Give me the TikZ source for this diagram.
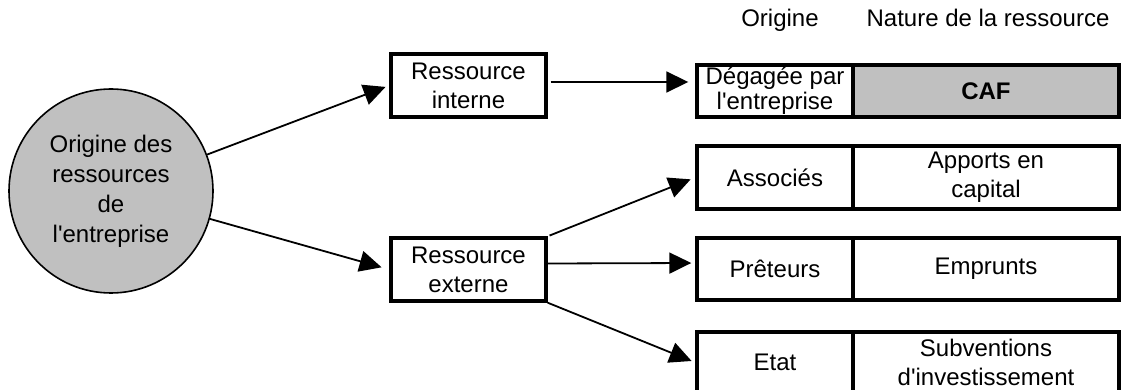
\documentclass[tikz,border=0pt]{standalone}
\usepackage{fontspec}
\setmainfont{Liberation Sans}
\usetikzlibrary{arrows.meta,calc}
\definecolor{cafgray}{HTML}{C0C0C0}
\newcommand{\apos}{\textquotesingle}
\begin{document}
\begin{tikzpicture}[x=0.5pt,y=-0.5pt,
  every node/.style={font=\fontsize{12}{14.5}\selectfont, align=center, inner sep=0pt},
  cell/.style={draw, line width=1.7pt, minimum width=78pt},
  wide/.style={cell, minimum width=133pt},
  conn/.style={line width=0.9pt, -{Triangle[length=11pt,width=10.5pt]}},
]
\useasboundingbox (0,0) rectangle (1121,390);
% circle
\node[circle, draw, line width=0.8pt, fill=cafgray, minimum size=102pt,
      font=\fontsize{12}{15}\selectfont] (circ) at (111,191)
      {Origine des\\ressources\\de\\l\apos entreprise};
% middle boxes
\node[cell, minimum width=77.5pt, minimum height=31.5pt] (intn) at (468.5,85.5) {Ressource\\interne};
\node[cell, minimum width=77.5pt, minimum height=31.5pt] (extn) at (468.5,269.5) {Ressource\\externe};
% headers
\node[anchor=base] (h1) at (780,27) {Origine};
\node[anchor=base] (h2) at (988,27) {Nature de la ressource};
% table rows
\node[cell, minimum height=26pt, font=\fontsize{12}{12.5}\selectfont] (deg) at (775,91) {Dégagée par\\l\apos entreprise};
\node[wide, minimum height=26pt, fill=cafgray, font=\fontsize{12}{14.5}\selectfont\bfseries] (caf) at (986,91) {CAF};
\node[cell, minimum height=31.5pt] (ass) at (775,177.5) {Associés};
\node[wide, minimum height=31.5pt] (app) at (986,177.5) {Apports en\\capital};
\node[cell, minimum height=31pt] (pre) at (775,269) {Prêteurs};
\node[wide, minimum height=31pt] (emp) at (986,269) {Emprunts};
\node[cell, minimum height=30.5pt] (eta) at (775,362.5) {Etat};
\node[wide, minimum height=30.5pt] (sub) at (986,362.5) {Subventions\\d\apos investissement};
% connectors
\draw[conn, shorten >=2pt] (circ) -- (intn.west);
\draw[conn, shorten >=4pt] (circ) -- (extn.west);
\draw[conn, shorten <=1.5pt, shorten >=3.5pt] ([yshift=1.75pt]intn.east) -- ([yshift=4.5pt]deg.west);
\draw[conn, shorten <=1pt, shorten >=2.5pt] (extn.north east) -- (ass.west);
\draw[conn, shorten >=2pt] ([yshift=3pt]extn.east) -- ([yshift=3pt]pre.west);
\draw[conn, shorten >=2pt] (extn.south east) -- (eta.west);
\end{tikzpicture}
\end{document}
